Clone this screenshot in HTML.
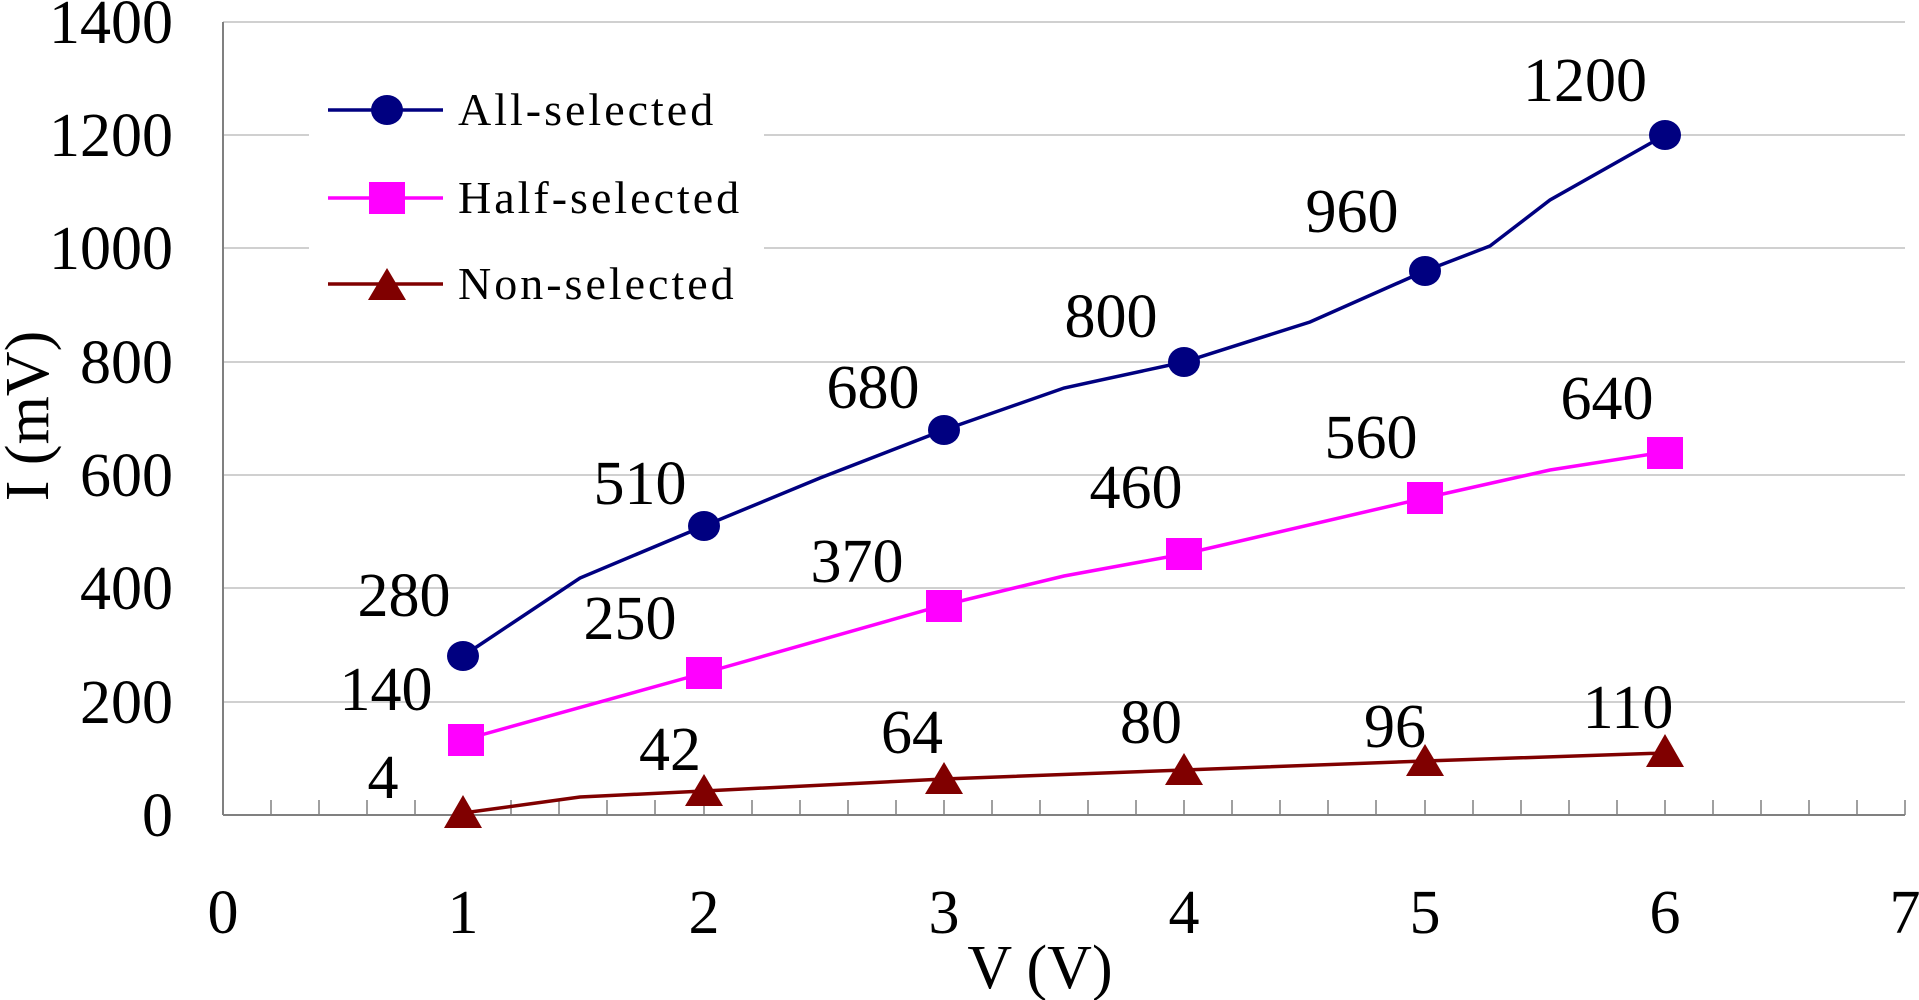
<!DOCTYPE html>
<html><head><meta charset="utf-8"><style>
html,body{margin:0;padding:0;background:#fff;}
svg{display:block;}
text{font-family:"Liberation Serif",serif;fill:#000;}
</style></head><body>
<svg width="1919" height="1000" viewBox="0 0 1919 1000" xmlns="http://www.w3.org/2000/svg">
<g stroke="#c0c0c0" stroke-width="1.5">
<line x1="223" y1="22" x2="1905" y2="22"/>
<line x1="223" y1="135" x2="1905" y2="135"/>
<line x1="223" y1="248" x2="1905" y2="248"/>
<line x1="223" y1="362" x2="1905" y2="362"/>
<line x1="223" y1="475" x2="1905" y2="475"/>
<line x1="223" y1="588" x2="1905" y2="588"/>
<line x1="223" y1="702" x2="1905" y2="702"/>
</g>
<rect x="309" y="86" width="455" height="226" fill="#fff"/>
<g stroke="#808080" stroke-width="2">
<line x1="223" y1="22" x2="223" y2="815"/>
<line x1="223" y1="815" x2="1905" y2="815"/>
</g>
<g stroke="#808080" stroke-width="1.5">
<line x1="271" y1="815" x2="271" y2="800"/><line x1="319" y1="815" x2="319" y2="800"/><line x1="367" y1="815" x2="367" y2="800"/><line x1="415" y1="815" x2="415" y2="800"/><line x1="463" y1="815" x2="463" y2="800"/>
<line x1="511" y1="815" x2="511" y2="800"/><line x1="559" y1="815" x2="559" y2="800"/><line x1="607" y1="815" x2="607" y2="800"/><line x1="655" y1="815" x2="655" y2="800"/><line x1="704" y1="815" x2="704" y2="800"/>
<line x1="752" y1="815" x2="752" y2="800"/><line x1="800" y1="815" x2="800" y2="800"/><line x1="848" y1="815" x2="848" y2="800"/><line x1="896" y1="815" x2="896" y2="800"/><line x1="944" y1="815" x2="944" y2="800"/>
<line x1="992" y1="815" x2="992" y2="800"/><line x1="1040" y1="815" x2="1040" y2="800"/><line x1="1088" y1="815" x2="1088" y2="800"/><line x1="1136" y1="815" x2="1136" y2="800"/><line x1="1184" y1="815" x2="1184" y2="800"/>
<line x1="1232" y1="815" x2="1232" y2="800"/><line x1="1280" y1="815" x2="1280" y2="800"/><line x1="1328" y1="815" x2="1328" y2="800"/><line x1="1376" y1="815" x2="1376" y2="800"/><line x1="1425" y1="815" x2="1425" y2="800"/>
<line x1="1473" y1="815" x2="1473" y2="800"/><line x1="1521" y1="815" x2="1521" y2="800"/><line x1="1569" y1="815" x2="1569" y2="800"/><line x1="1617" y1="815" x2="1617" y2="800"/><line x1="1665" y1="815" x2="1665" y2="800"/>
<line x1="1713" y1="815" x2="1713" y2="800"/><line x1="1761" y1="815" x2="1761" y2="800"/><line x1="1809" y1="815" x2="1809" y2="800"/><line x1="1857" y1="815" x2="1857" y2="800"/><line x1="1905" y1="815" x2="1905" y2="800"/>
</g>
<g font-size="62" text-anchor="end">
<text x="173" y="836">0</text><text x="173" y="723">200</text><text x="173" y="609">400</text><text x="173" y="496">600</text><text x="173" y="383">800</text><text x="173" y="269">1000</text><text x="173" y="156">1200</text><text x="173" y="43">1400</text>
</g>
<g font-size="62" text-anchor="middle">
<text x="223" y="933">0</text><text x="463" y="933">1</text><text x="704" y="933">2</text><text x="944" y="933">3</text><text x="1184" y="933">4</text><text x="1425" y="933">5</text><text x="1665" y="933">6</text><text x="1905" y="933">7</text>
<text x="1040" y="988">V (V)</text>
<text transform="translate(48,416) rotate(-90)">I (mV)</text>
</g>
<polyline fill="none" stroke="#000080" stroke-width="3.5" points="463,656 580,578 704,526 820,478 944,430 1064,388 1184,362 1310,322 1425,271 1490,246 1550,200 1665,135"/>
<polyline fill="none" stroke="#ff00ff" stroke-width="3.5" points="463,740 704,673 944,605 1064,576 1184,554 1425,498 1550,470 1665,452"/>
<polyline fill="none" stroke="#800000" stroke-width="3.5" points="463,813 580,797 704,791 944,779 1184,770 1425,761 1665,753"/>
<g fill="#000080">
<ellipse cx="463" cy="656" rx="16" ry="15"/><ellipse cx="704" cy="526" rx="16" ry="15"/><ellipse cx="944" cy="430" rx="16" ry="15"/><ellipse cx="1184" cy="362" rx="16" ry="15"/><ellipse cx="1425" cy="271" rx="16" ry="15"/><ellipse cx="1665" cy="135" rx="16" ry="15"/>
<ellipse cx="387" cy="110" rx="16" ry="15"/>
</g>
<g fill="#ff00ff">
<rect x="448" y="724" width="36" height="32"/><rect x="686" y="657" width="36" height="32"/><rect x="926" y="590" width="36" height="32"/><rect x="1166" y="538" width="36" height="32"/><rect x="1407" y="482" width="36" height="32"/><rect x="1647" y="437" width="36" height="32"/>
<rect x="369" y="182" width="36" height="32"/>
</g>
<g fill="#800000">
<polygon points="463,795 444,828 482,828"/><polygon points="704,774 685,806 723,806"/><polygon points="944,762 925,794 963,794"/><polygon points="1184,753 1165,785 1203,785"/><polygon points="1425,744 1406,776 1444,776"/><polygon points="1665,734 1646,767 1684,767"/>
<polygon points="387,268 368,300 406,300"/>
</g>
<g stroke-width="3.5">
<line x1="328" y1="110" x2="443" y2="110" stroke="#000080"/>
<line x1="328" y1="198" x2="443" y2="198" stroke="#ff00ff"/>
<line x1="328" y1="284" x2="443" y2="284" stroke="#800000"/>
</g>
<g font-size="46" letter-spacing="3">
<text x="458" y="125">All-selected</text>
<text x="458" y="213">Half-selected</text>
<text x="458" y="299">Non-selected</text>
</g>
<g font-size="62" text-anchor="middle">
<text x="404" y="616">280</text><text x="640" y="504">510</text><text x="873" y="408">680</text><text x="1111" y="337">800</text><text x="1352" y="232">960</text><text x="1585" y="101">1200</text>
<text x="386" y="710">140</text><text x="630" y="639">250</text><text x="857" y="582">370</text><text x="1136" y="508">460</text><text x="1371" y="458">560</text><text x="1607" y="419">640</text>
<text x="383" y="798">4</text><text x="670" y="770">42</text><text x="912" y="753">64</text><text x="1151" y="743">80</text><text x="1395" y="747">96</text><text x="1628" y="728">110</text>
</g>
</svg>
</body></html>
